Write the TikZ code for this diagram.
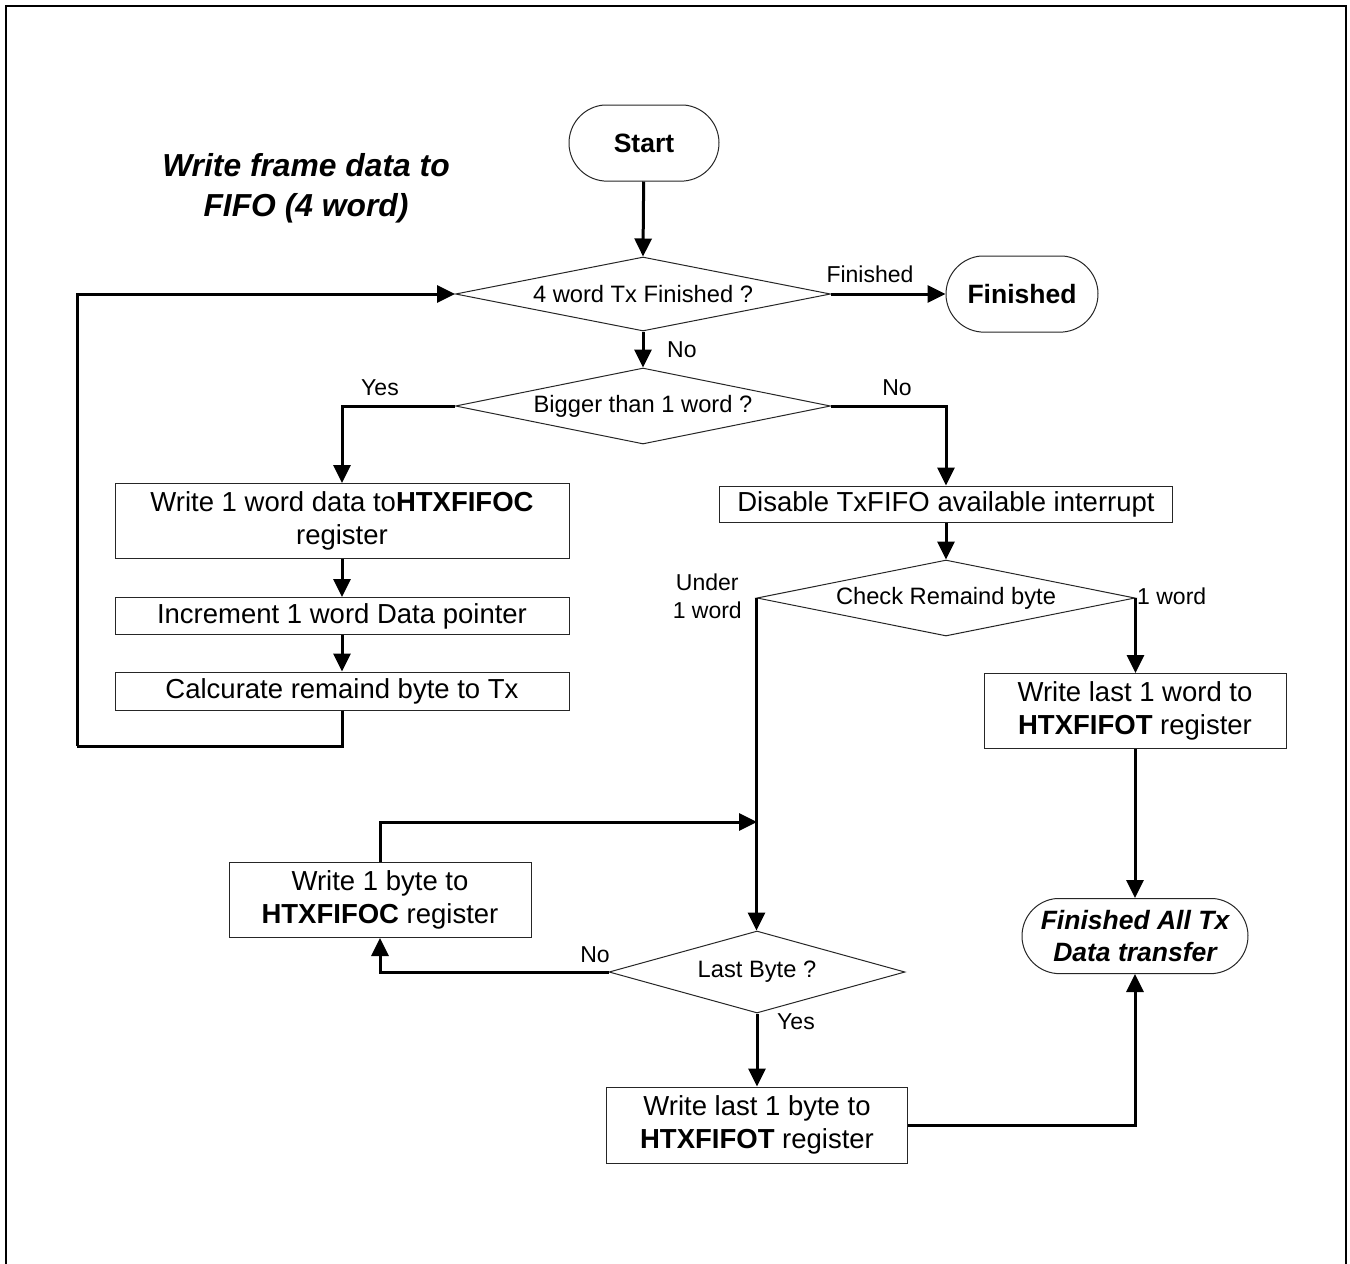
\documentclass[tikz,border=0pt]{standalone}
\usepackage{fontspec}
\setmainfont{Liberation Sans}
\usetikzlibrary{shapes.geometric,shapes.misc,arrows.meta}
\begin{document}
\begin{tikzpicture}[x=1pt,y=-1pt,
  boxtxt/.style={font=\fontsize{27.5}{33}\selectfont},
  proc/.style={draw=black!85,line width=1pt,rectangle,inner sep=0pt,align=center,boxtxt},
  term/.style={draw=black!85,line width=1pt,rounded rectangle,rounded rectangle arc length=170,
    inner sep=0pt,align=center,font=\fontsize{26.5}{32}\selectfont\bfseries},
  dec/.style={draw=black!85,line width=1pt,diamond,aspect=5,inner sep=0pt,
    font=\fontsize{23.7}{28}\selectfont},
  lbl/.style={font=\fontsize{23}{28}\selectfont,inner sep=0pt,align=center},
  conn/.style={line width=3pt,-{Triangle[length=18pt,width=17pt]}},
  wire/.style={line width=3pt}
]
% canvas and frame
\useasboundingbox (0,0) rectangle (1350,1264);
\fill[white] (0,0) rectangle (1350,1264);
\draw[line width=2pt] (6,1264) -- (6,6) -- (1346,6) -- (1346,1264);

% heading
\node[align=center,font=\fontsize{31.8}{40}\selectfont\bfseries\itshape] (title) at (306,188)
  {Write frame data to\\FIFO (4 word)};

% terminals
\node[term,minimum width=150pt,minimum height=76pt] (start) at (644,143) {Start};
\node[term,minimum width=152pt,minimum height=76pt] (fin) at (1022,294) {Finished};
\node[term,minimum width=226pt,minimum height=75pt,font=\fontsize{26.5}{32}\selectfont\bfseries\itshape]
  (fall) at (1135,936) {Finished All Tx\\Data transfer};

% decisions
\node[dec,minimum width=375pt,minimum height=74pt] (d1) at (643,294) {4 word Tx Finished ?};
\node[dec,minimum width=375pt,minimum height=76pt] (d2) at (643,406) {Bigger than 1 word ?};
\node[dec,minimum width=378pt,minimum height=76pt] (d3) at (946,598) {Check Remaind byte};
\node[dec,minimum width=296pt,minimum height=82pt] (d4) at (757,972) {Last Byte ?};

% process boxes
\node[proc,minimum width=454pt,minimum height=75pt] (b1) at (342,521)
  {Write 1 word data to\textbf{HTXFIFOC}\\register};
\node[proc,minimum width=454pt,minimum height=37pt] (b2) at (342,616)
  {Increment 1 word Data pointer};
\node[proc,minimum width=454pt,minimum height=38pt] (b3) at (342,691)
  {Calcurate remaind byte to Tx};
\node[proc,minimum width=453pt,minimum height=36pt] (dis) at (946,504)
  {Disable TxFIFO available interrupt};
\node[proc,minimum width=302pt,minimum height=75pt] (wlw) at (1135,711)
  {Write last 1 word to\\\textbf{HTXFIFOT} register};
\node[proc,minimum width=302pt,minimum height=75pt] (w1b) at (380,900)
  {Write 1 byte to\\\textbf{HTXFIFOC} register};
\node[proc,minimum width=301pt,minimum height=76pt] (wlb) at (757,1125)
  {Write last 1 byte to\\\textbf{HTXFIFOT} register};

% junction points
\coordinate (loopcorner) at (77,746);
\coordinate (merge) at (757,822);

% connectors
\draw[conn] (start) -- (d1.north);
\draw[conn] (d1.east) -- (fin.west);
\draw[conn] (d1.south) -- (d2.north);
\draw[conn] (d2.west) -| (b1.north);
\draw[conn] (d2.east) -| (dis.north);
\draw[conn] (b1) -- (b2);
\draw[conn] (b2) -- (b3);
\draw[wire] (b3.south) |- (loopcorner);
\draw[conn] (loopcorner) |- (d1.west);
\draw[conn] (dis) -- (d3.north);
\draw[conn] (d3.east) -- (d3.east |- wlw.north);
\draw[conn] (wlw) -- (fall.north);
\draw[conn] (d3.west) -- (d3.west |- d4.north);
\draw[conn] (w1b.north) |- (merge);
\draw[conn] (d4.west) -| (w1b.south);
\draw[conn] (d4.south) -- (wlb.north);
\draw[conn] (wlb.east) -| (fall.south);

% branch labels
\node[lbl] (lfin) at (870,274) {Finished};
\node[lbl,anchor=west] (lno1) at (667,350) {No};
\node[lbl] (lyes1) at (380,388) {Yes};
\node[lbl] (lno2) at (897,388) {No};
\node[lbl,anchor=east] (lunder) at (742,596) {Under\\1 word};
\node[lbl,anchor=west] (l1w) at (1137,596) {1 word};
\node[lbl] (lno3) at (595,955) {No};
\node[lbl] (lyes2) at (796,1022) {Yes};
\end{tikzpicture}
\end{document}
